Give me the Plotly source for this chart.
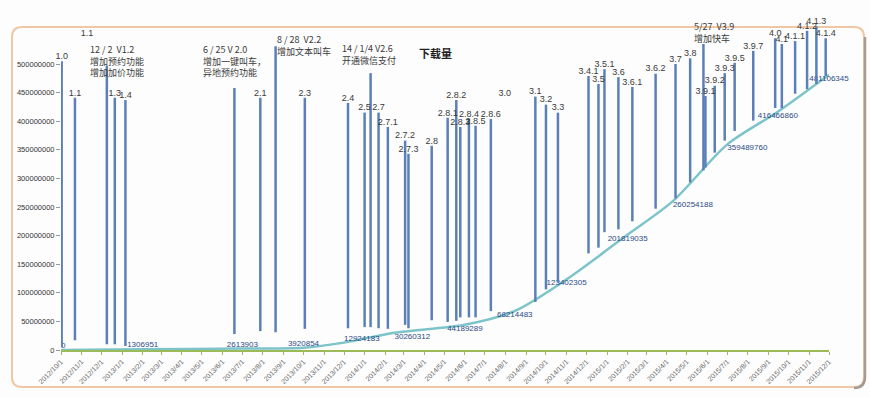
import plotly.graph_objects as go
import pandas as pd

# ---------------- data ----------------
# cumulative downloads (labelled points of the smoothed line)
cum_dates = ["2012-10-01", "2013-02-01", "2013-07-01", "2013-10-01", "2013-12-01",
             "2014-02-15", "2014-06-01", "2014-08-15", "2014-11-01", "2015-02-01",
             "2015-04-10", "2015-07-01", "2015-09-15", "2015-12-01"]
cum_values = [0, 1306951, 2613903, 3920854, 12924183,
              30260312, 44189289, 68214483, 123402305, 201819035,
              260254188, 359489760, 416466860, 481106345]
cum_label_pos = ["top right", "top center", "top center", "top center", "top right",
                 "bottom right", "bottom center", "bottom center", "bottom center", "bottom center",
                 "bottom right", "bottom right", "bottom center", "bottom center"]

# version release spikes
versions = ["1.0", "1.1", "", "1.3", "1.4", "", "2.1", "", "2.3", "2.4", "2.5", "", "2.7",
            "2.7.1", "2.7.2", "2.7.3", "2.8", "2.8.1", "2.8.2", "2.8.3", "2.8.4", "2.8.5",
            "2.8.6", "3.1", "3.2", "3.3", "3.4.1", "3.5", "3.5.1", "3.6", "3.6.1", "3.6.2",
            "3.7", "3.8", "", "3.9.1", "3.9.2", "3.9.3", "3.9.5", "3.9.7", "4.0", "4.1",
            "4.1.1", "4.1.2", "4.1.3", "4.1.4"]
release_dates = ["2012-10-02", "2012-10-22", "2012-12-09", "2012-12-21", "2013-01-06",
                 "2013-06-19", "2013-07-28", "2013-08-20", "2013-10-03", "2013-12-07",
                 "2014-01-01", "2014-01-10", "2014-01-22", "2014-02-05", "2014-03-03",
                 "2014-03-08", "2014-04-12", "2014-05-06", "2014-05-19", "2014-05-25",
                 "2014-06-07", "2014-06-17", "2014-07-10", "2014-09-15", "2014-10-01",
                 "2014-10-19", "2014-12-04", "2014-12-19", "2014-12-28", "2015-01-18",
                 "2015-02-08", "2015-03-15", "2015-04-14", "2015-05-06", "2015-05-26",
                 "2015-05-29", "2015-06-12", "2015-06-27", "2015-07-12", "2015-08-09",
                 "2015-09-11", "2015-09-21", "2015-10-11", "2015-10-29", "2015-11-12",
                 "2015-11-26"]
spike_top = [505e6, 441e6, 497e6, 441e6, 437e6, 458e6, 441e6, 531e6, 441e6, 432e6,
             415e6, 484e6, 415e6, 390e6, 366e6, 343e6, 357e6, 406e6, 437e6, 390e6,
             404e6, 392e6, 404e6, 443e6, 429e6, 415e6, 479e6, 465e6, 491e6, 477e6,
             460e6, 483e6, 500e6, 510e6, 535e6, 444e6, 462e6, 484e6, 502e6, 523e6,
             545e6, 535e6, 540e6, 558e6, 566e6, 545e6]
spike_bottom = [5e6, 17e6, 10e6, 10e6, 7e6, 28e6, 33e6, 31e6, 37e6, 38e6,
                40e6, 40e6, 38e6, 37e6, 44e6, 38e6, 52e6, 49e6, 51e6, 57e6,
                57e6, 57e6, 68e6, 84e6, 106e6, 118e6, 169e6, 179e6, 206e6, 211e6,
                225e6, 247e6, 265e6, 293e6, 314e6, 319e6, 345e6, 366e6, 383e6, 401e6,
                423e6, 423e6, 448e6, 456e6, 465e6, 479e6]

# free-standing version labels
extra_labels = ["1.1", "3.0"]
extra_dates = ["2012-11-09", "2014-07-31"]
extra_values = [545e6, 440e6]

# release notes
note_texts = ["12 / 2  V1.2<br>增加预约功能<br>增加加价功能",
              "6 / 25 V 2.0<br>增加一键叫车，<br>异地预约功能",
              "8 / 28  V2.2<br>增加文本叫车",
              "14 / 1/4 V2.6<br>开通微信支付",
              "5/27  V3.9<br>增加快车"]
note_dates = ["2012-11-10", "2013-04-30", "2013-08-19", "2013-11-25", "2015-05-09"]
note_values = [540e6, 540e6, 558e6, 542e6, 580e6]

months = pd.date_range("2012-10-01", "2015-12-01", freq="MS")
month_labels = [f"{d.year}/{d.month}/1" for d in months]
y_ticks = list(range(0, 500000001, 50000000))

# ---------------- figure ----------------
fig = go.Figure()

fig.add_trace(go.Scatter(
    x=pd.to_datetime(cum_dates), y=cum_values, mode="lines+text",
    line=dict(color="#7cc4ca", width=2.5, shape="spline", smoothing=0.8),
    text=[str(v) for v in cum_values], textposition=cum_label_pos,
    textfont=dict(size=8, color="#2b4a86", family="Liberation Sans"),
    cliponaxis=False, showlegend=False, hoverinfo="skip"))

sx, sy = [], []
for d, b, t in zip(release_dates, spike_bottom, spike_top):
    sx += [d, d, None]
    sy += [b, t, None]
fig.add_trace(go.Scatter(x=sx, y=sy, mode="lines",
                         line=dict(color="#5b80b8", width=2.5),
                         showlegend=False, hoverinfo="skip", cliponaxis=False))

fig.add_trace(go.Scatter(
    x=release_dates + extra_dates, y=spike_top + extra_values, mode="text",
    text=versions + extra_labels, textposition="top center",
    textfont=dict(size=9, color="#3a3a3a", family="Liberation Sans"),
    cliponaxis=False, showlegend=False, hoverinfo="skip"))

for t, d, v in zip(note_texts, note_dates, note_values):
    fig.add_annotation(x=d, y=v, text=t, showarrow=False, xanchor="left",
                       yanchor="top", align="left",
                       font=dict(size=9, color="#3a3a3a",
                                 family="Noto Sans CJK SC"))

fig.add_annotation(x=0.488, y=0.903, xref="paper", yref="paper",
                   text="<b>下载量</b>", showarrow=False,
                   font=dict(size=11, color="#222", family="Noto Sans CJK SC"))

# rounded chart frame (pixel -> paper)
L, R, T, B = 61, 829, 10, 350
def px(x): return (x - L) / (R - L)
def py(y): return (B - y) / (B - T)
x0, x1, y0, y1, r = 12, 864, 27, 387, 10
path = (f"M {px(x0+r)},{py(y0)} L {px(x1-r)},{py(y0)} Q {px(x1)},{py(y0)} {px(x1)},{py(y0+r)} "
        f"L {px(x1)},{py(y1-r)} Q {px(x1)},{py(y1)} {px(x1-r)},{py(y1)} "
        f"L {px(x0+r)},{py(y1)} Q {px(x0)},{py(y1)} {px(x0)},{py(y1-r)} "
        f"L {px(x0)},{py(y0+r)} Q {px(x0)},{py(y0)} {px(x0+r)},{py(y0)} Z")
fig.add_shape(type="path", path=path, xref="paper", yref="paper",
              line=dict(color="#efc7a4", width=2), layer="below")
fig.add_shape(type="path", xref="paper", yref="paper", layer="below",
              path=(f"M {px(x1+1)},{py(y0+r)} L {px(x1+1)},{py(y1-r)} "
                    f"Q {px(x1+1)},{py(y1+1)} {px(x1-r)},{py(y1+1)}"),
              line=dict(color="#a49c94", width=2.5))

fig.update_layout(
    width=870, height=397,
    margin=dict(l=L, r=870 - R, t=T, b=397 - B, autoexpand=False),
    paper_bgcolor="#fdfdfd", plot_bgcolor="rgba(0,0,0,0)",
    font=dict(family="Liberation Sans, Noto Sans CJK SC", color="#333"),
    xaxis=dict(type="date", range=["2012-10-01", "2015-12-01"], automargin=False,
               tickvals=months, ticktext=month_labels, tickangle=-45,
               tickfont=dict(size=7, color="#666"), showgrid=False,
               showline=True, linecolor="#9bbb59", linewidth=2,
               ticks="outside", ticklen=3, tickcolor="#9bbb59", zeroline=False),
    yaxis=dict(range=[0, 500e6 * (B - T) / (B - 64)], tickvals=y_ticks, automargin=False,
               tickformat="d", tickfont=dict(size=7.5, color="#333"),
               showgrid=False, showline=False,
               ticks="outside", ticklen=4, tickcolor="#999", zeroline=False),
)

fig.write_html("out.html", config={"displayModeBar": False},
               post_script="document.body.style.margin='0';")
